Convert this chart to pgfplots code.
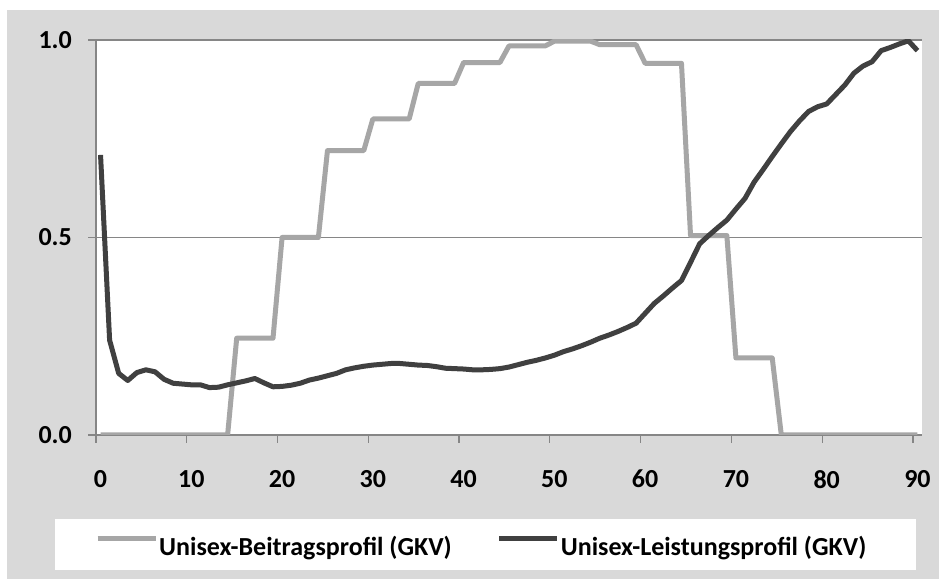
\documentclass[border=0pt]{standalone}
\usepackage{pgfplots}
\pgfplotsset{compat=1.18}
\usepackage{pgfplotstable}
\usepackage{fontspec}
\setmainfont{Carlito}
\definecolor{panel}{HTML}{D9D9D9}
\definecolor{gridc}{HTML}{868686}
\definecolor{beitrag}{HTML}{A6A6A6}
\definecolor{leistung}{HTML}{404040}

\pgfplotstableread{
age beitrag leistung
0 0 0.709
1 0 0.240
2 0 0.156
3 0 0.138
4 0 0.158
5 0 0.165
6 0 0.160
7 0 0.141
8 0 0.131
9 0 0.129
10 0 0.127
11 0 0.127
12 0 0.120
13 0 0.121
14 0 0.127
15 0.245 0.132
16 0.245 0.137
17 0.245 0.143
18 0.245 0.132
19 0.245 0.122
20 0.500 0.123
21 0.500 0.126
22 0.500 0.131
23 0.500 0.139
24 0.500 0.144
25 0.720 0.150
26 0.720 0.156
27 0.720 0.165
28 0.720 0.170
29 0.720 0.174
30 0.800 0.177
31 0.800 0.179
32 0.800 0.181
33 0.800 0.181
34 0.800 0.179
35 0.890 0.177
36 0.890 0.176
37 0.890 0.173
38 0.890 0.169
39 0.890 0.168
40 0.943 0.167
41 0.943 0.165
42 0.943 0.165
43 0.943 0.166
44 0.943 0.168
45 0.985 0.172
46 0.985 0.178
47 0.985 0.184
48 0.985 0.189
49 0.985 0.195
50 0.997 0.202
51 0.997 0.211
52 0.997 0.218
53 0.997 0.226
54 0.997 0.235
55 0.988 0.245
56 0.988 0.253
57 0.988 0.262
58 0.988 0.272
59 0.988 0.283
60 0.941 0.308
61 0.941 0.333
62 0.941 0.352
63 0.941 0.372
64 0.941 0.391
65 0.505 0.437
66 0.505 0.484
67 0.505 0.505
68 0.505 0.525
69 0.505 0.544
70 0.195 0.572
71 0.195 0.599
72 0.195 0.640
73 0.195 0.672
74 0.195 0.705
75 0 0.737
76 0 0.768
77 0 0.795
78 0 0.819
79 0 0.831
80 0 0.838
81 0 0.862
82 0 0.886
83 0 0.916
84 0 0.934
85 0 0.945
86 0 0.973
87 0 0.981
88 0 0.990
89 0 0.998
90 0 0.973
}\datatable

\begin{document}
\begin{tikzpicture}[x=1bp,y=1bp]
\fill[white] (0,0) rectangle (939,579);
\path[use as bounding box] (0,0) rectangle (939,579);
\fill[panel] (7,0) rectangle (939,569);
\fill[white] (55,9) rectangle (916,60);
\begin{axis}[
  at={(96bp,144bp)}, anchor=south west,
  scale only axis, width=826bp, height=395bp,
  xmin=-0.5, xmax=90.5, ymin=0, ymax=1,
  axis x line*=bottom, axis y line*=left,
  axis line style={draw=gridc, line width=1.2bp, -},
  axis background/.style={fill=white},
  xtick={-0.5,9.5,19.5,29.5,39.5,49.5,59.5,69.5,79.5,89.5},
  xticklabels={0,10,20,30,40,50,60,70,80,90},
  xticklabel style={xshift=4.54bp, anchor=north, inner sep=0pt, yshift=-27bp},
  ytick={0,0.5,1}, yticklabels={0.0,0.5,1.0},
  yticklabel style={anchor=east, inner sep=0pt, xshift=-16bp},
  tick align=outside, major tick length=8bp,
  tick style={draw=gridc, line width=1.2bp},
  ymajorgrids, grid style={draw=gridc, line width=1.2bp},
  ticklabel style={font=\fontsize{26bp}{30bp}\selectfont\bfseries},
  /pgf/number format/assume math mode=true,
  legend columns=2,
  legend style={at={(-0.0012,-0.2835)}, anchor=west, draw=none, fill=none,
    inner sep=0pt, font=\fontsize{26bp}{30bp}\selectfont\bfseries,
    nodes={inner sep=1bp},
    /tikz/every even column/.append style={column sep=44bp}},
  legend image code/.code={\draw[#1] (0bp,8bp) -- (58bp,8bp);},
]
\addplot[beitrag, line width=5bp, line join=round] table[x=age, y=beitrag] {\datatable};
\addlegendentry{Unisex-Beitragsprofil (GKV)}
\addplot[leistung, line width=5bp, line join=round] table[x=age, y=leistung] {\datatable};
\addlegendentry{Unisex-Leistungsprofil (GKV)}
\end{axis}
\end{tikzpicture}
\end{document}
